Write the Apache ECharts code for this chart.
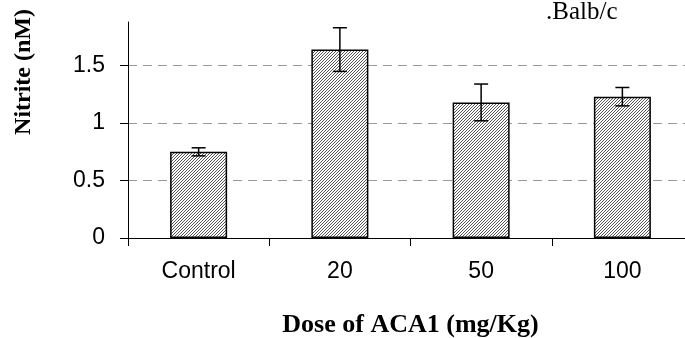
<!DOCTYPE html>
<html>
<head>
<meta charset="utf-8">
<script src="https://cdn.jsdelivr.net/npm/echarts@6/dist/echarts.min.js"></script>
<style>
html, body { margin: 0; padding: 0; background: #fff; overflow: hidden; }
#chart { width: 685px; height: 338px; }
</style>
</head>
<body>
<div id="chart"></div>
<script>
var myChart = echarts.init(document.getElementById('chart'));

var doses = ['Control', '20', '50', '100'];
var nitrite = [0.75, 1.64, 1.18, 1.23];
var errors = [0.035, 0.19, 0.16, 0.08];
var yTicks = [0, 0.5, 1, 1.5];

// hatch fill
var hatch = document.createElement('canvas');
hatch.width = 3;
hatch.height = 3;
var ctx = hatch.getContext('2d');
ctx.fillStyle = '#fff';
ctx.fillRect(0, 0, 3, 3);
ctx.strokeStyle = '#444';
ctx.lineWidth = 0.9;
ctx.beginPath();
ctx.moveTo(0, 3); ctx.lineTo(3, 0);
ctx.moveTo(-1, 1); ctx.lineTo(1, -1);
ctx.moveTo(2, 4); ctx.lineTo(4, 2);
ctx.stroke();

var errData = [];
for (var i = 0; i < doses.length; i++) {
    errData.push([i, nitrite[i] - errors[i], nitrite[i] + errors[i]]);
}

var option = {
    animation: false,
    title: {
        text: '.Balb/c',
        left: 546,
        top: 0,
        padding: 0,
        textStyle: { fontFamily: 'Liberation Serif', fontSize: 25, fontWeight: 'normal', color: '#000' }
    },
    graphic: [{
        type: 'text',
        left: 12,
        top: 9,
        rotation: Math.PI / 2,
        style: {
            text: 'Nitrite (nM)',
            font: 'bold 24px "Liberation Serif"',
            fill: '#000'
        }
    }],
    grid: { left: 128, top: 22, bottom: 100, right: -8, outerBoundsMode: 'none' },
    xAxis: {
        type: 'category',
        data: doses,
        name: 'Dose of ACA1 (mg/Kg)',
        nameLocation: 'middle',
        nameGap: 74,
        nameTextStyle: { fontFamily: 'Liberation Serif', fontSize: 26, fontWeight: 'bold', color: '#000' },
        axisLine: { lineStyle: { color: '#000', width: 1 } },
        axisTick: { show: true, length: 8, lineStyle: { color: '#000' } },
        axisLabel: { margin: 22, fontFamily: 'Liberation Sans', fontSize: 23, color: '#000' }
    },
    yAxis: {
        type: 'value',
        min: 0,
        max: 1.88,
        interval: 0.5,
        axisLine: { show: true, lineStyle: { color: '#000', width: 1 } },
        axisTick: { show: true, length: 8, customValues: yTicks, lineStyle: { color: '#000' } },
        axisLabel: { margin: 23, customValues: yTicks, fontFamily: 'Liberation Sans', fontSize: 23, color: '#000' },
        splitLine: { show: true, lineStyle: { color: '#999', type: [9, 6], width: 1 } }
    },
    series: [{
        type: 'bar',
        data: nitrite,
        barWidth: 57,
        itemStyle: {
            color: { image: hatch, repeat: 'repeat' },
            borderColor: '#000',
            borderWidth: 1.5
        }
    }, {
        type: 'custom',
        data: errData,
        z: 10,
        renderItem: function (params, api) {
            var x = api.value(0);
            var lo = api.coord([x, api.value(1)]);
            var hi = api.coord([x, api.value(2)]);
            var w = 7;
            var st = { stroke: '#000', lineWidth: 1.5 };
            return {
                type: 'group',
                children: [
                    { type: 'line', shape: { x1: lo[0], y1: lo[1], x2: hi[0], y2: hi[1] }, style: st },
                    { type: 'line', shape: { x1: lo[0] - w, y1: lo[1], x2: lo[0] + w, y2: lo[1] }, style: st },
                    { type: 'line', shape: { x1: hi[0] - w, y1: hi[1], x2: hi[0] + w, y2: hi[1] }, style: st }
                ]
            };
        }
    }]
};

myChart.setOption(option);
</script>
</body>
</html>
